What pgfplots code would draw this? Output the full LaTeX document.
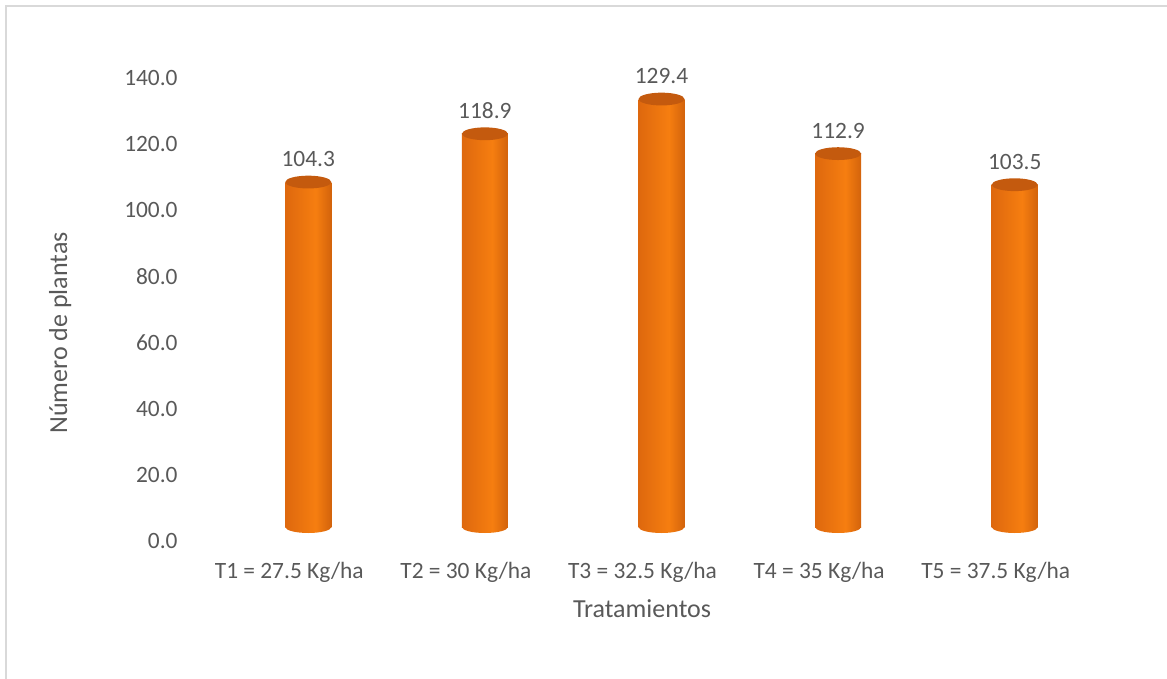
\documentclass[border=0pt]{standalone}
\usepackage{pgfplots}
\usepackage{pgfplotstable}
\pgfplotsset{compat=1.18}
\usepackage{fontspec}
\setmainfont{Carlito}

\definecolor{txtgray}{RGB}{89,89,89}
\definecolor{framegray}{RGB}{217,217,217}
\definecolor{cylA}{RGB}{178,78,8}
\definecolor{cylB}{RGB}{222,104,14}
\definecolor{cylC}{RGB}{246,126,16}
\definecolor{cylD}{RGB}{196,88,10}
\definecolor{cylE}{RGB}{140,62,6}
\definecolor{cyltopc}{RGB}{196,90,14}

% side shading of a cylinder: dark edges, bright highlight right of centre
\pgfdeclarehorizontalshading{cylside}{100bp}{
  color(0bp)=(cylA); color(25bp)=(cylB); color(58bp)=(cylC);
  color(82bp)=(cylD); color(100bp)=(cylE)}

% rounded base of each cylinder
\pgfdeclareplotmark{cylbase}{%
  \pgfpathellipse{\pgfpointorigin}{\pgfqpoint{11.5pt}{0pt}}{\pgfqpoint{0pt}{3pt}}%
  \pgfshadepath{cylside}{0}\pgfusepath{discard}}
% lid of each cylinder
\pgfdeclareplotmark{cyltop}{%
  \pgfpathellipse{\pgfpointorigin}{\pgfqpoint{11.5pt}{0pt}}{\pgfqpoint{0pt}{3.2pt}}%
  \pgfusepathqfill}

\pgfplotstableread{
x  y   z
0  104.3 0
1  118.9 0
2  129.4 0
3  112.9 0
4  103.5 0
}\plantas

\begin{document}
\begin{tikzpicture}
\useasboundingbox (0,0) rectangle (583.5pt,-339.5pt);
\draw[framegray, line width=1pt] (3.2pt,-2.8pt) rectangle (620pt,-420pt);
\begin{axis}[
  at={(110pt,-263.5pt)}, anchor=south west,
  scale only axis, width=441.5pt, height=231.5pt,
  xmin=-0.5, xmax=4.5, ymin=0, ymax=140,
  axis line style={draw=none},
  clip=false,
  font=\fontsize{11.7}{14}\selectfont,
  xtick={0,1,2,3,4},
  xticklabels={T1 = 27.5 Kg/ha, T2 = 30 Kg/ha, T3 = 32.5 Kg/ha, T4 = 35 Kg/ha, T5 = 37.5 Kg/ha},
  ytick={0,20,...,140},
  yticklabel={\pgfmathprintnumber[fixed, fixed zerofill, precision=1]{\tick}},
  /pgf/number format/assume math mode=true,
  ticklabel style={text=txtgray},
  yticklabel style={anchor=east, inner sep=0pt, xshift=-21pt, yshift=-7pt},
  xticklabel style={anchor=north, inner sep=0pt, yshift=-17.5pt, xshift=-9.5pt},
  xlabel={Tratamientos}, ylabel={Número de plantas},
  label style={font=\fontsize{13}{15}\selectfont, text=txtgray},
  xlabel style={at={(axis description cs:0.478,-0.177)}, anchor=center},
  ylabel style={at={(axis description cs:-0.181,0.419)}, anchor=center},
  major tick length=0pt,
]
% base ellipses
\addplot[only marks, mark=cylbase] table[x=x, y=z] {\plantas};
% cylinder bodies, one path each so every bar gets its own shading
\pgfplotsinvokeforeach{0,...,4}{
  \addplot[ybar, bar shift=0pt, bar width=23pt, draw=none, shading=cylside,
    restrict x to domain=#1:#1]
    table[x=x, y=y] {\plantas};
}
% lids with value labels
\addplot[only marks, mark=cyltop, mark options={fill=cyltopc, draw=none},
  nodes near coords, point meta=explicit,
  nodes near coords style={anchor=south, inner sep=0pt, yshift=7.5pt, text=txtgray,
    /pgf/number format/.cd, fixed, fixed zerofill, precision=1, assume math mode=true}]
  table[x=x, y=y, meta=y] {\plantas};
\end{axis}
\end{tikzpicture}
\end{document}
